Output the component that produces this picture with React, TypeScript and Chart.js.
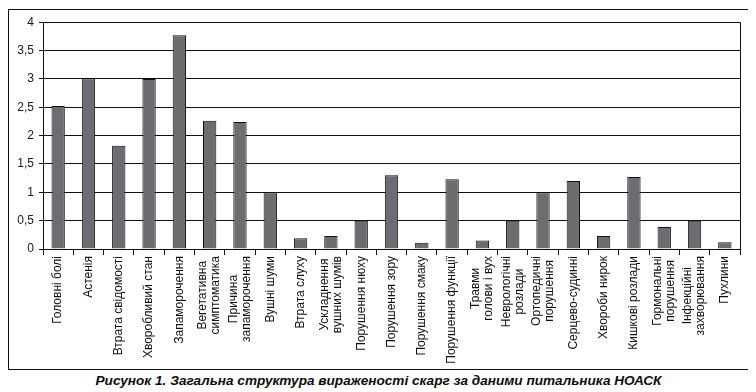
import React, { useEffect, useRef } from 'react';
import { Chart, registerables } from 'chart.js';

Chart.register(...registerables);

// ---- Data ----
const categories: string[][] = [
  ['Головні болі'],
  ['Астенія'],
  ['Втрата свідомості'],
  ['Хворобливий стан'],
  ['Запаморочення'],
  ['Вегетативна', 'симптоматика'],
  ['Причина', 'запаморочення'],
  ['Вушні шуми'],
  ['Втрата слуху'],
  ['Ускладнення', 'вушних шумів'],
  ['Порушення нюху'],
  ['Порушення зору'],
  ['Порушення смаку'],
  ['Порушення функції'],
  ['Травми', 'голови і вух'],
  ['Неврологічні', 'розлади'],
  ['Ортопедичні', 'порушення'],
  ['Серцево-судинні'],
  ['Хвороби нирок'],
  ['Кишкові розлади'],
  ['Гормональні', 'порушення'],
  ['Інфекційні', 'захворювання'],
  ['Пухлини'],
];

const values: number[] = [
  2.52, 3.01, 1.82, 3.0, 3.77, 2.26, 2.24, 1.0, 0.19, 0.23, 0.5, 1.3,
  0.11, 1.23, 0.15, 0.5, 1.0, 1.2, 0.23, 1.27, 0.39, 0.5, 0.12,
];

const yMin = 0;
const yMax = 4;
const yStep = 0.5;

const caption = 'Рисунок 1. Загальна структура вираженості скарг за даними питальника НОАСК';

const LINE = '#111111';
const BAR = '#6c6d70';
const FONT = '"Liberation Sans", Arial, sans-serif';

const xLabelPlugin = {
  id: 'xLabelsAndFrame',
  afterDraw(chart: any) {
    const { ctx, chartArea } = chart;
    const x = chart.scales.x;
    ctx.save();
    // right border of plot area
    ctx.strokeStyle = LINE;
    ctx.lineWidth = 1;
    ctx.beginPath();
    const rx = Math.round(chartArea.right) + 0.5;
    ctx.moveTo(rx, chartArea.top);
    ctx.lineTo(rx, chartArea.bottom);
    ctx.stroke();

    ctx.font = '12px ' + FONT;
    ctx.fillStyle = LINE;
    ctx.textBaseline = 'middle';
    ctx.textAlign = 'center';
    const lh = 13;
    const top = chartArea.bottom + 7;
    categories.forEach((lines, i) => {
      const cx = x.getPixelForTick(i);
      const maxW = Math.max(...lines.map((l) => ctx.measureText(l).width));
      lines.forEach((line, j) => {
        ctx.save();
        ctx.translate(cx + (j - (lines.length - 1) / 2) * lh, top + maxW / 2);
        ctx.rotate(-Math.PI / 2);
        ctx.fillText(line, 0, 0);
        ctx.restore();
      });
    });
    ctx.restore();
  },
};

export default function App() {
  const ref = useRef<HTMLCanvasElement | null>(null);

  useEffect(() => {
    if (!ref.current) return;
    const chart = new Chart(ref.current, {
      type: 'bar',
      data: {
        labels: categories.map((c) => c.join(' ')),
        datasets: [
          {
            data: values,
            backgroundColor: BAR,
            borderColor: LINE,
            borderWidth: 1,
            categoryPercentage: 1,
            barPercentage: 0.44,
          },
        ],
      },
      options: {
        animation: false,
        responsive: false,
        maintainAspectRatio: false,
        devicePixelRatio: 1,
        layout: { padding: { top: 12, right: 8, left: 0, bottom: 0 } },
        plugins: {
          legend: { display: false },
          tooltip: { enabled: false },
        },
        scales: {
          x: {
            offset: true,
            grid: {
              offset: true,
              drawOnChartArea: false,
              drawTicks: true,
              tickLength: 6,
              color: LINE,
              lineWidth: 1,
            },
            border: { display: true, color: LINE, width: 1 },
            ticks: { display: false },
            afterFit: (scale: any) => {
              scale.height = 120;
            },
          },
          y: {
            min: yMin,
            max: yMax,
            grid: {
              color: LINE,
              lineWidth: 1,
              drawTicks: true,
              tickLength: 4,
            },
            border: { display: true, color: LINE, width: 1 },
            ticks: {
              stepSize: yStep,
              padding: 5,
              color: '#1a1a1a',
              font: { family: FONT, size: 12 },
              callback: (v: any) => String(v).replace('.', ','),
            },
            afterFit: (scale: any) => {
              scale.width = 34;
            },
          },
        },
      },
      plugins: [xLabelPlugin],
    });
    return () => chart.destroy();
  }, []);

  return (
    <div>
      <div
        style={{
          marginTop: 1,
          width: 741,
          height: 361,
          border: '1px solid #111',
          boxSizing: 'border-box',
        }}
      >
        <canvas ref={ref} width={739} height={359} style={{ display: 'block' }} />
      </div>
      <div
        style={{
          width: 741,
          textAlign: 'center',
          marginTop: 2,
          font: 'italic bold 13.6px "Liberation Sans", Arial, sans-serif',
          lineHeight: '17px',
          color: '#0d0d0d',
        }}
      >
        {caption}
      </div>
    </div>
  );
}
